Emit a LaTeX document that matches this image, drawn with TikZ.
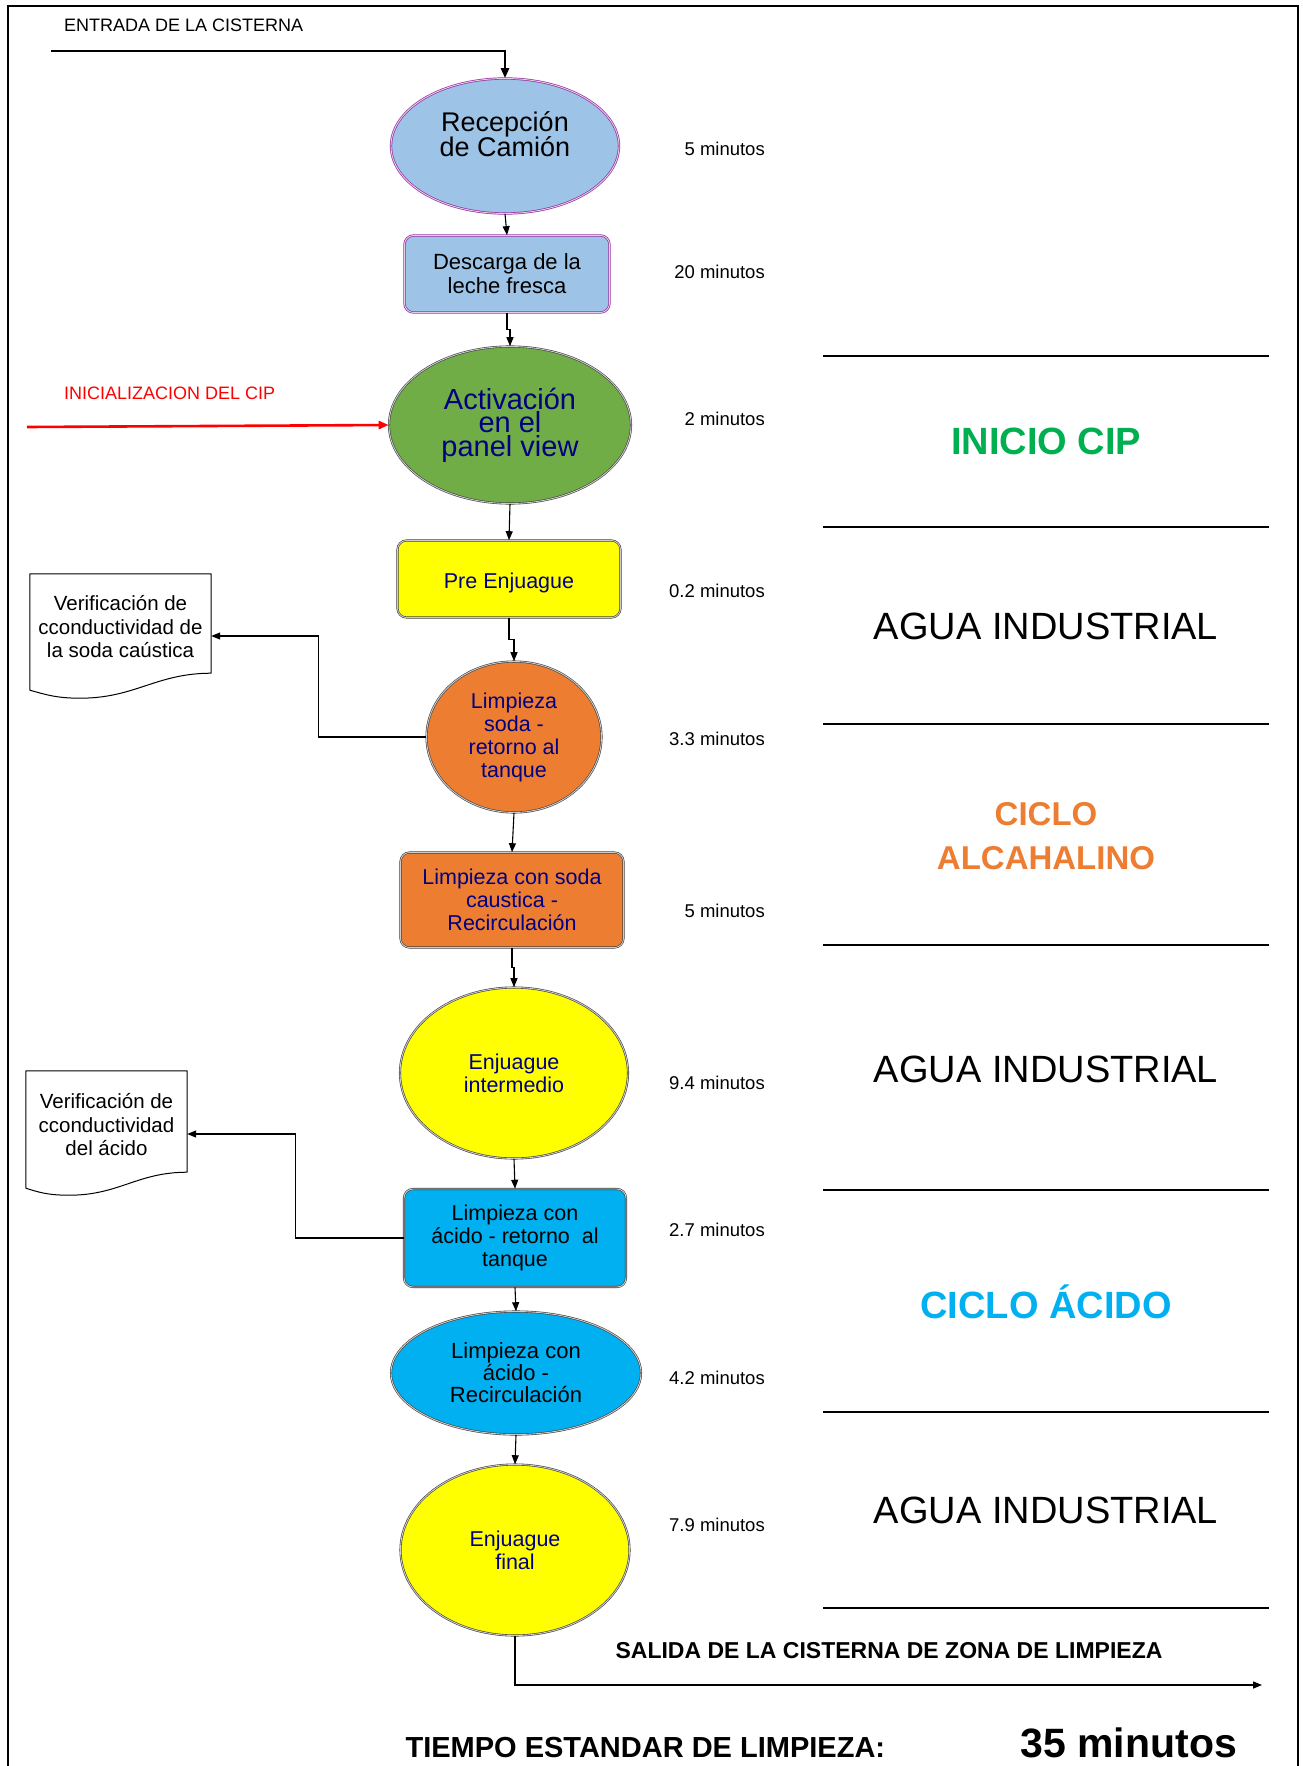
\documentclass[tikz,border=0pt]{standalone}
\usepackage{fontspec}
\setmainfont{Liberation Sans}
\usetikzlibrary{shapes.geometric,arrows.meta,calc}

\definecolor{skyfill}{HTML}{9DC3E6}
\definecolor{plum}{RGB}{150,50,160}
\definecolor{leaf}{HTML}{70AD47}
\definecolor{lemon}{HTML}{FFFF00}
\definecolor{tangerine}{HTML}{ED7D31}
\definecolor{aqua}{HTML}{00B0F0}
\definecolor{navytext}{HTML}{000080}
\definecolor{cipgreen}{HTML}{00B050}

\begin{document}
% tight multi-line labels: keep the stated leading even for large glyphs
\setlength{\lineskiplimit}{-100pt}
\setlength{\lineskip}{0pt}
\begin{tikzpicture}[x=1pt,y=-1pt,
  purpleedge/.style={draw=plum,double=plum!25,double distance=0.9pt,line width=0.7pt},
  darkedge/.style={draw=black!75,double=black!20,double distance=0.9pt,line width=0.6pt},
  oval/.style={ellipse,inner sep=0pt,align=center},
  box/.style={rectangle,rounded corners=9pt,inner sep=0pt,align=center},
  txt/.style={font=\fontsize{21.5}{23}\selectfont},
  flow/.style={-{Triangle[length=9pt,width=7pt]},line width=1.1pt},
  mins/.style={anchor=east,inner sep=0pt,font=\fontsize{18.5}{22}\selectfont},
  zone/.style={line width=2.4pt},
  zonetitle/.style={font=\fontsize{38}{40}\selectfont\bfseries,align=center},
  docbox/.style={rectangle,inner sep=0pt,align=center,font=\fontsize{20.5}{23.5}\selectfont},
  docedge/.style={line width=1pt,line join=round}
]
\useasboundingbox (0,0) rectangle (1303,1766);

% page frame, open at the bottom
\draw[line width=2.6pt] (8,1766) -- (8,6) -- (1298,6) -- (1298,1766);

% ---------- process steps ----------
\node[oval,purpleedge,fill=skyfill,minimum width=228pt,minimum height=135pt] (rec) at (505,146) {};
\node[align=center,font=\fontsize{27}{24.5}\selectfont] (rectxt) at (505,134) {Recepción\\de Camión};

\node[box,purpleedge,fill=skyfill,minimum width=205pt,minimum height=77pt,font=\fontsize{22}{24}\selectfont] (desc) at (507,274) {Descarga de la\\leche fresca};

\node[oval,darkedge,fill=leaf,minimum width=242pt,minimum height=157pt,text=navytext,font=\fontsize{29}{23.5}\selectfont] (act) at (510,425) {Activación\\en el\\panel view};

\node[box,darkedge,fill=lemon,minimum width=223pt,minimum height=77pt,text=navytext,font=\fontsize{21.5}{23}\selectfont] (pre) at (509,579) {\raisebox{-3.5pt}[\height][\depth]{Pre Enjuague}};

\node[oval,darkedge,fill=tangerine,minimum width=175pt,minimum height=151pt,text=navytext,txt] (lsoda) at (514,737) {Limpieza\\soda -\\retorno al\\tanque};

\node[box,darkedge,fill=tangerine,minimum width=223pt,minimum height=95pt,text=navytext,txt] (lrec) at (512,900) {Limpieza con soda\\caustica -\\Recirculación};

\node[oval,darkedge,fill=lemon,minimum width=228pt,minimum height=171pt,text=navytext,txt] (enjint) at (514,1073) {Enjuague\\intermedio};

\node[box,darkedge,fill=aqua,minimum width=222pt,minimum height=98pt,txt] (acret) at (515,1238) {Limpieza con\\ácido - retorno\ \ al\\tanque};

\node[oval,darkedge,fill=aqua,minimum width=250pt,minimum height=123pt,font=\fontsize{22}{22}\selectfont] (acrec) at (516,1373) {Limpieza con\\ácido -\\Recirculación};

\node[oval,darkedge,fill=lemon,minimum width=229pt,minimum height=171pt,text=navytext,txt] (fin) at (515,1550) {Enjuague\\final};

% ---------- conductivity checks (document shapes) ----------
\node[docbox,minimum width=181pt,minimum height=106pt] (doc1) at (120.5,627) {Verificación de\\cconductividad de\\la soda caústica};
\draw[docedge] ($(doc1.south west)+(0,10)$) -- (doc1.north west) -- (doc1.north east) -- ($(doc1.south east)+(0,-7)$)
  .. controls +(-55,0) and +(55,0) .. ($(doc1.south east)+(-131,18)$)
  .. controls +(-25,0) and +(15,4) .. ($(doc1.south west)+(0,10)$);

\node[docbox,minimum width=161pt,minimum height=108pt] (doc2) at (106.5,1125) {Verificación de\\cconductividad\\del ácido};
\draw[docedge] ($(doc2.south west)+(0,9)$) -- (doc2.north west) -- (doc2.north east) -- ($(doc2.south east)+(0,-7)$)
  .. controls +(-50,0) and +(50,0) .. ($(doc2.south east)+(-118,16)$)
  .. controls +(-22,0) and +(13,4) .. ($(doc2.south west)+(0,9)$);

% ---------- flow connectors ----------
\coordinate (entry) at (51,51);
\draw[-{Triangle[length=10pt,width=8pt]},line width=2.6pt] (entry) -| (rec.north);

\coordinate (cipstart) at (27,427);
\draw[-{Triangle[length=10pt,width=8pt]},line width=2.6pt,red] (cipstart) -- (act.west);

\draw[flow] (rec.south) -- (desc.north);
\draw[flow] (desc.south) |- ($(desc.south)!0.5!(act.north)$) -| (act.north);
\draw[flow] (act.south) -- (pre.north);
\draw[flow] (pre.south) |- ($(pre.south)!0.5!(lsoda.north)$) -| (lsoda.north);
\draw[flow] (lsoda.south) -- (lrec.north);
\draw[flow] (lrec.south) |- ($(lrec.south)!0.5!(enjint.north)$) -| (enjint.north);
\draw[flow] (enjint.south) -- (acret.north);
\draw[flow] (acret.south) -- (acrec.north);
\draw[flow] (acrec.south) -- (fin.north);

\draw[flow] (lsoda.west) -- ++(-108,0) |- ($(doc1.east)+(0,9)$);
\draw[flow] (acret.west) -- ++(-108,0) |- ($(doc2.east)+(0,9)$);

\coordinate (exit) at (1262,1685);
\draw[flow,line width=1.4pt] (fin.south) |- (exit);

% ---------- entry / exit captions ----------
\node[anchor=west,inner sep=0pt,font=\fontsize{18}{20}\selectfont] (entrytxt) at (64,25) {ENTRADA DE LA CISTERNA};
\node[anchor=west,inner sep=0pt,font=\fontsize{18}{20}\selectfont,text=red] (ciptxt) at (64,393) {INICIALIZACION DEL CIP};
\node[font=\fontsize{23}{25}\selectfont\bfseries] (exittxt) at (889,1651) {SALIDA DE LA CISTERNA DE ZONA DE LIMPIEZA};

% ---------- step durations ----------
\node[mins] (m1) at (765,149) {5 minutos};
\node[mins] (m2) at (765,272) {20 minutos};
\node[mins] (m3) at (765,419) {2 minutos};
\node[mins] (m4) at (765,591) {0.2 minutos};
\node[mins] (m5) at (765,739) {3.3 minutos};
\node[mins] (m6) at (765,911) {5 minutos};
\node[mins] (m7) at (765,1083) {9.4 minutos};
\node[mins] (m8) at (765,1230) {2.7 minutos};
\node[mins] (m9) at (765,1378) {4.2 minutos};
\node[mins] (m10) at (765,1525) {7.9 minutos};

% ---------- cleaning phases ----------
\foreach \yy in {356,527,724,945,1190,1412,1608}
  \draw[zone] (823,\yy) -- (1269,\yy);

\node[zonetitle,text=cipgreen] (z1) at (1046,441) {INICIO CIP};
\node[font=\fontsize{38}{40}\selectfont] (z2) at (1046,626) {AGUA INDUSTRIAL};
\node[zonetitle,text=tangerine,font=\fontsize{33}{44}\selectfont\bfseries] (z3) at (1046,836) {CICLO\\ALCAHALINO};
\node[font=\fontsize{38}{40}\selectfont] (z4) at (1046,1069) {AGUA INDUSTRIAL};
\node[zonetitle,text=aqua] (z5) at (1046,1302) {CICLO ÁCIDO};
\node[font=\fontsize{38}{40}\selectfont] (z6) at (1046,1510) {AGUA INDUSTRIAL};

% ---------- total time ----------
\node[anchor=base west,font=\fontsize{29}{30}\selectfont\bfseries] (total) at (402,1757) {TIEMPO ESTANDAR DE LIMPIEZA:};
\node[anchor=base west,font=\fontsize{41}{42}\selectfont\bfseries] (totalval) at (1017,1757) {35 minutos};
\end{tikzpicture}
\end{document}
